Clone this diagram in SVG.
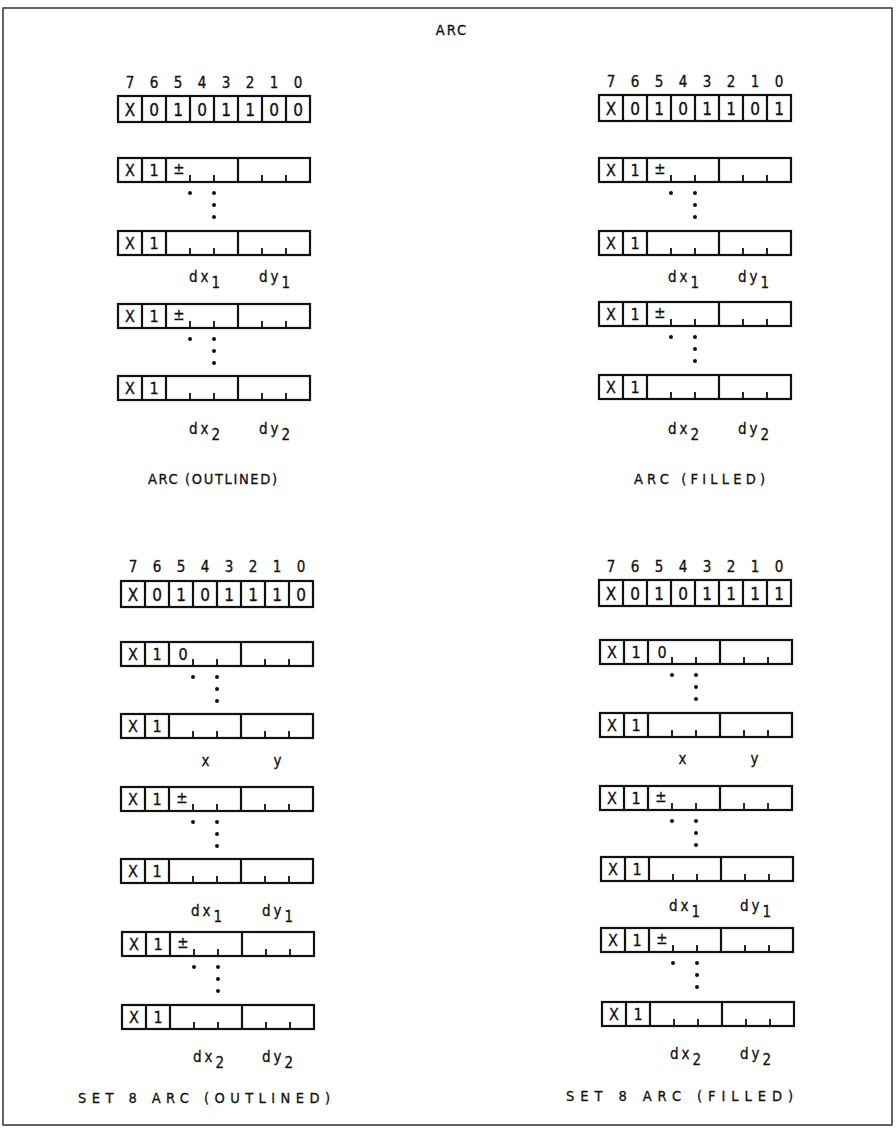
<svg xmlns="http://www.w3.org/2000/svg" xmlns:xlink="http://www.w3.org/1999/xlink" width="896" height="1129" viewBox="0 0 896 1129">
<style>
.box{fill:#fff;stroke:#111;stroke-width:2.2}
.ln{stroke:#111;stroke-width:2.2}
.tk{stroke:#111;stroke-width:1.8}
.dot{fill:#111}
.t{font-family:"DejaVu Sans Condensed","Liberation Sans Narrow","Liberation Sans",Arial,sans-serif;fill:#111;stroke:#111;stroke-width:0.3;text-anchor:middle}
.hv{font-size:17px}
.rv{font-size:16px}
.bn{font-size:15px}
.pm{font-size:15px}
.fl{font-size:15px;letter-spacing:3px}
.sub{font-size:15px}
.lbl{font-size:14.5px}
</style>
<defs>
<g id="hdrgrid">
<rect class="box" x="0" y="0" width="192" height="26"/>
<path class="ln" d="M24 0V26M48 0V26M72 0V26M96 0V26M120 0V26M144 0V26M168 0V26"/>
</g>
<g id="bitnums">
<text class="t bn" x="12" y="0">7</text><text class="t bn" x="36" y="0">6</text><text class="t bn" x="60" y="0">5</text><text class="t bn" x="84" y="0">4</text><text class="t bn" x="108" y="0">3</text><text class="t bn" x="132" y="0">2</text><text class="t bn" x="156" y="0">1</text><text class="t bn" x="180" y="0">0</text>
</g>
<g id="rowbase">
<rect class="box" x="0" y="0" width="192" height="24"/>
<path class="ln" d="M24 0V24M48 0V24M120 0V24"/>
<path class="tk" d="M72 24V17M96 24V17M144 24V17M168 24V17"/>
<text class="t rv" x="12" y="18">X</text>
<text class="t rv" x="36" y="18">1</text>
</g>
<g id="dots">
<circle class="dot" cx="72" cy="11" r="2"/>
<circle class="dot" cx="96" cy="11" r="2"/>
<circle class="dot" cx="96" cy="23" r="2"/>
<circle class="dot" cx="96" cy="35" r="2"/>
</g>
</defs>

<rect x="3" y="8" width="889" height="1117" fill="#fff" stroke="#333" stroke-width="1.5"/>
<text id="title" class="t lbl" x="452" y="35" style="letter-spacing:2px">ARC</text>

<!-- Top-left: ARC (OUTLINED) -->
<g id="tl-bits" transform="translate(118,88)"><use xlink:href="#bitnums"/></g>
<g id="tl-header" transform="translate(118,96)"><use xlink:href="#hdrgrid"/>
<text class="t hv" x="12" y="19.5">X</text><text class="t hv" x="36" y="19.5">0</text><text class="t hv" x="60" y="19.5">1</text><text class="t hv" x="84" y="19.5">0</text><text class="t hv" x="108" y="19.5">1</text><text class="t hv" x="132" y="19.5">1</text><text class="t hv" x="156" y="19.5">0</text><text class="t hv" x="180" y="19.5">0</text></g>
<g id="tl-row1" transform="translate(118,158)"><use xlink:href="#rowbase"/><text class="t pm" x="61" y="16">±</text></g>
<g id="tl-dots1" transform="translate(118,182)"><use xlink:href="#dots"/></g>
<g id="tl-row2" transform="translate(118,231)"><use xlink:href="#rowbase"/></g>
<g id="tl-lab1"><text class="t fl" x="206" y="282">dx<tspan class="sub" dy="6">1</tspan></text><text class="t fl" x="276" y="282">dy<tspan class="sub" dy="6">1</tspan></text></g>
<g id="tl-row3" transform="translate(118,304)"><use xlink:href="#rowbase"/><text class="t pm" x="61" y="16">±</text></g>
<g id="tl-dots2" transform="translate(118,328)"><use xlink:href="#dots"/></g>
<g id="tl-row4" transform="translate(118,376)"><use xlink:href="#rowbase"/></g>
<g id="tl-lab2"><text class="t fl" x="206" y="434">dx<tspan class="sub" dy="6">2</tspan></text><text class="t fl" x="276" y="434">dy<tspan class="sub" dy="6">2</tspan></text></g>
<text id="tl-caption" class="t lbl" x="148" y="484" textLength="129" lengthAdjust="spacing" style="text-anchor:start">ARC (OUTLINED)</text>

<!-- Top-right: ARC (FILLED) -->
<g id="tr-bits" transform="translate(599,87)"><use xlink:href="#bitnums"/></g>
<g id="tr-header" transform="translate(599,95)"><use xlink:href="#hdrgrid"/>
<text class="t hv" x="12" y="19.5">X</text><text class="t hv" x="36" y="19.5">0</text><text class="t hv" x="60" y="19.5">1</text><text class="t hv" x="84" y="19.5">0</text><text class="t hv" x="108" y="19.5">1</text><text class="t hv" x="132" y="19.5">1</text><text class="t hv" x="156" y="19.5">0</text><text class="t hv" x="180" y="19.5">1</text></g>
<g id="tr-row1" transform="translate(599,158)"><use xlink:href="#rowbase"/><text class="t pm" x="61" y="16">±</text></g>
<g id="tr-dots1" transform="translate(599,182)"><use xlink:href="#dots"/></g>
<g id="tr-row2" transform="translate(599,231)"><use xlink:href="#rowbase"/></g>
<g id="tr-lab1"><text class="t fl" x="685" y="282">dx<tspan class="sub" dy="6">1</tspan></text><text class="t fl" x="755" y="282">dy<tspan class="sub" dy="6">1</tspan></text></g>
<g id="tr-row3" transform="translate(599,302)"><use xlink:href="#rowbase"/><text class="t pm" x="61" y="16">±</text></g>
<g id="tr-dots2" transform="translate(599,326)"><use xlink:href="#dots"/></g>
<g id="tr-row4" transform="translate(599,375)"><use xlink:href="#rowbase"/></g>
<g id="tr-lab2"><text class="t fl" x="685" y="434">dx<tspan class="sub" dy="6">2</tspan></text><text class="t fl" x="755" y="434">dy<tspan class="sub" dy="6">2</tspan></text></g>
<text id="tr-caption" class="t lbl" x="634" y="484" textLength="131" lengthAdjust="spacing" style="text-anchor:start">ARC (FILLED)</text>

<!-- Bottom-left: SET 8 ARC (OUTLINED) -->
<g id="bl-bits" transform="translate(121,572)"><use xlink:href="#bitnums"/></g>
<g id="bl-header" transform="translate(121,581)"><use xlink:href="#hdrgrid"/>
<text class="t hv" x="12" y="19.5">X</text><text class="t hv" x="36" y="19.5">0</text><text class="t hv" x="60" y="19.5">1</text><text class="t hv" x="84" y="19.5">0</text><text class="t hv" x="108" y="19.5">1</text><text class="t hv" x="132" y="19.5">1</text><text class="t hv" x="156" y="19.5">1</text><text class="t hv" x="180" y="19.5">0</text></g>
<g id="bl-row1" transform="translate(121,642)"><use xlink:href="#rowbase"/><text class="t rv" x="62" y="18">0</text></g>
<g id="bl-dots1" transform="translate(121,666)"><use xlink:href="#dots"/></g>
<g id="bl-row2" transform="translate(121,714)"><use xlink:href="#rowbase"/></g>
<g id="bl-lab1"><text class="t fl" x="207" y="766">x</text><text class="t fl" x="279" y="766">y</text></g>
<g id="bl-row3" transform="translate(121,787)"><use xlink:href="#rowbase"/><text class="t pm" x="61" y="16">±</text></g>
<g id="bl-dots2" transform="translate(121,811)"><use xlink:href="#dots"/></g>
<g id="bl-row4" transform="translate(121,859)"><use xlink:href="#rowbase"/></g>
<g id="bl-lab2"><text class="t fl" x="208" y="916">dx<tspan class="sub" dy="6">1</tspan></text><text class="t fl" x="279" y="916">dy<tspan class="sub" dy="6">1</tspan></text></g>
<g id="bl-row5" transform="translate(122,932)"><use xlink:href="#rowbase"/><text class="t pm" x="61" y="16">±</text></g>
<g id="bl-dots3" transform="translate(122,956)"><use xlink:href="#dots"/></g>
<g id="bl-row6" transform="translate(122,1005)"><use xlink:href="#rowbase"/></g>
<g id="bl-lab3"><text class="t fl" x="210" y="1062">dx<tspan class="sub" dy="6">2</tspan></text><text class="t fl" x="279" y="1062">dy<tspan class="sub" dy="6">2</tspan></text></g>
<text id="bl-caption" class="t lbl" x="78" y="1103" textLength="252" lengthAdjust="spacing" style="text-anchor:start">SET 8 ARC (OUTLINED)</text>

<!-- Bottom-right: SET 8 ARC (FILLED) -->
<g id="br-bits" transform="translate(599,572)"><use xlink:href="#bitnums"/></g>
<g id="br-header" transform="translate(599,580)"><use xlink:href="#hdrgrid"/>
<text class="t hv" x="12" y="19.5">X</text><text class="t hv" x="36" y="19.5">0</text><text class="t hv" x="60" y="19.5">1</text><text class="t hv" x="84" y="19.5">0</text><text class="t hv" x="108" y="19.5">1</text><text class="t hv" x="132" y="19.5">1</text><text class="t hv" x="156" y="19.5">1</text><text class="t hv" x="180" y="19.5">1</text></g>
<g id="br-row1" transform="translate(600,640)"><use xlink:href="#rowbase"/><text class="t rv" x="62" y="18">0</text></g>
<g id="br-dots1" transform="translate(600,664)"><use xlink:href="#dots"/></g>
<g id="br-row2" transform="translate(600,713)"><use xlink:href="#rowbase"/></g>
<g id="br-lab1"><text class="t fl" x="684" y="764">x</text><text class="t fl" x="756" y="764">y</text></g>
<g id="br-row3" transform="translate(600,786)"><use xlink:href="#rowbase"/><text class="t pm" x="61" y="16">±</text></g>
<g id="br-dots2" transform="translate(600,810)"><use xlink:href="#dots"/></g>
<g id="br-row4" transform="translate(601,857)"><use xlink:href="#rowbase"/></g>
<g id="br-lab2"><text class="t fl" x="686" y="911">dx<tspan class="sub" dy="6">1</tspan></text><text class="t fl" x="757" y="911">dy<tspan class="sub" dy="6">1</tspan></text></g>
<g id="br-row5" transform="translate(601,928)"><use xlink:href="#rowbase"/><text class="t pm" x="61" y="16">±</text></g>
<g id="br-dots3" transform="translate(601,952)"><use xlink:href="#dots"/></g>
<g id="br-row6" transform="translate(602,1002)"><use xlink:href="#rowbase"/></g>
<g id="br-lab3"><text class="t fl" x="687" y="1059">dx<tspan class="sub" dy="6">2</tspan></text><text class="t fl" x="757" y="1059">dy<tspan class="sub" dy="6">2</tspan></text></g>
<text id="br-caption" class="t lbl" x="566" y="1101" textLength="227" lengthAdjust="spacing" style="text-anchor:start">SET 8 ARC (FILLED)</text>

<g id="connectors"></g>
</svg>
